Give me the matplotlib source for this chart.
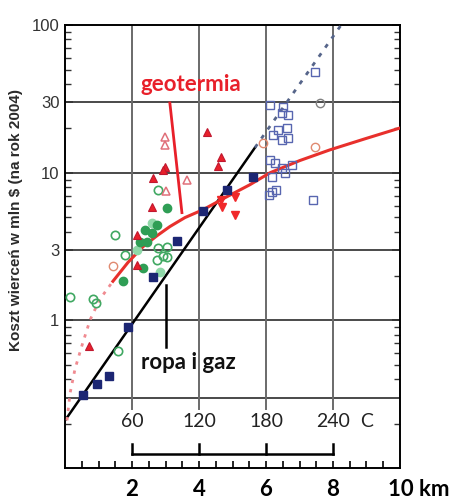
import numpy as np
import matplotlib
matplotlib.use("Agg")
import matplotlib.pyplot as plt
from matplotlib.ticker import FixedLocator, NullFormatter

# --- data (depth in km, cost in mln $) ---
oil_line_x = [0.0, 5.67]
oil_line_y = [0.21, 14.8]
oil_dotted_x = [5.67, 8.24]
oil_dotted_y = [14.8, 100.0]

geo_curve_x = [1.43, 1.88, 2.33, 2.75, 3.13, 3.58, 4.12, 4.78, 5.52, 6.12, 7.01, 7.91, 8.96, 10.0]
geo_curve_y = [1.84, 2.47, 3.16, 3.75, 4.32, 4.97, 5.62, 6.78, 8.30, 10.0, 12.1, 14.3, 17.0, 20.1]
geo_dotted_x = [0.06, 0.15, 0.30, 0.51, 0.75, 1.04, 1.43]
geo_dotted_y = [0.21, 0.32, 0.47, 0.68, 1.01, 1.39, 1.84]

navy_sq_x = [0.54, 0.96, 1.31, 1.88, 2.63, 3.34, 4.12, 4.84, 5.61]
navy_sq_y = [0.31, 0.37, 0.42, 0.90, 1.98, 3.47, 5.5, 7.7, 9.4]

open_sq_x = [6.12, 6.51, 6.48, 6.66, 6.36, 6.63, 6.21, 6.48, 6.66, 7.46, 6.12, 6.27,
             6.48, 6.78, 6.57, 6.18, 6.18, 6.30, 6.09, 7.40]
open_sq_y = [28.8, 27.9, 25.4, 24.6, 19.5, 20.1, 18.1, 16.7, 17.2, 48.0, 12.2, 11.7,
             10.8, 11.3, 10.0, 9.4, 7.44, 7.68, 7.1, 6.57]

red_tri_x = [4.24, 4.66, 4.57, 2.99, 2.93, 2.63, 2.60, 2.15, 2.15, 0.72]
red_tri_y = [18.9, 12.8, 11.1, 11.0, 10.5, 9.25, 5.9, 3.81, 2.39, 0.67]

open_tri_x = [2.99, 2.99, 3.64, 3.01]
open_tri_y = [17.5, 15.5, 9.0, 7.56]

down_tri_x = [4.66, 4.69, 5.07, 5.07]
down_tri_y = [6.57, 5.9, 6.9, 5.2]

green_fill_x = [3.04, 1.73, 2.39, 2.24, 2.75, 2.33, 2.60, 2.45]
green_fill_y = [5.8, 1.84, 4.12, 3.42, 4.45, 2.28, 3.93, 3.37]
light_green_x = [2.84, 2.60, 2.15]
light_green_y = [2.14, 4.6, 3.0]

green_open_x = [1.49, 0.15, 0.84, 0.93, 1.58, 1.79, 2.78, 3.04, 2.75, 2.93, 3.04, 2.78]
green_open_y = [3.81, 1.45, 1.39, 1.32, 0.62, 2.79, 3.11, 3.16, 2.58, 2.71, 2.67, 7.7]

orange_open_x = [5.91, 7.46, 1.43]
orange_open_y = [16.0, 15.0, 2.32]
gray_open_x = [7.61]
gray_open_y = [29.7]

temp_labels = ["60", "120", "180", "240"]
temp_pos = [2, 4, 6, 8]
grid_y = [0.3, 1, 3, 10, 30]
grid_x = [2, 4, 6, 8]

fig = plt.figure(figsize=(4.53, 5.03), dpi=100)
ax = fig.add_axes([0.1435, 0.0696, 0.7395, 0.8804])
ax.set_yscale("log")
ax.set_xlim(0, 10)
ax.set_ylim(0.1, 100)

# grid drawn by hand (vertical lines stop above the temperature scale)
for gy in grid_y:
    ax.axhline(gy, color="#4a4a4a", lw=1.4, zorder=1)
for gx in grid_x:
    ax.plot([gx, gx], [0.25, 100], color="#6a6a6a", lw=1.4, zorder=1)

# fitted lines
ax.plot(oil_line_x, oil_line_y, color="black", lw=1.8, zorder=3)
ax.plot(oil_dotted_x, oil_dotted_y, color="#56658a", lw=2, ls=(0, (1.5, 2.5)), zorder=3)
ax.plot(geo_curve_x, geo_curve_y, color="#e8302c", lw=2.2, zorder=3)
ax.plot(geo_dotted_x, geo_dotted_y, color="#f08a90", lw=2, ls=(0, (1.2, 2.2)), zorder=3)

# points
ax.plot(green_open_x, green_open_y, "o", ms=6, mfc="none", mec="#40a862", mew=1.2, zorder=4)
ax.plot(light_green_x, light_green_y, "o", ms=6, mfc="#8fd8a8", mec="#8fd8a8", zorder=4)
ax.plot(green_fill_x, green_fill_y, "o", ms=6, mfc="#2f9e55", mec="#2f9e55", zorder=4)
ax.plot(open_tri_x, open_tri_y, "^", ms=6, mfc="none", mec="#e0707a", mew=1.1, zorder=4)
ax.plot(red_tri_x, red_tri_y, "^", ms=6, mfc="#e8202a", mec="#c01830", mew=0.8, zorder=4)
ax.plot(down_tri_x, down_tri_y, "v", ms=6, mfc="#f0282a", mec="#f0282a", zorder=4)
ax.plot(open_sq_x, open_sq_y, "s", ms=6, mfc="none", mec="#5866b0", mew=1.0, zorder=4)
ax.plot(navy_sq_x, navy_sq_y, "s", ms=5.5, mfc="#1c2673", mec="#1c2673", zorder=5)
ax.plot(orange_open_x, orange_open_y, "o", ms=6, mfc="none", mec="#e08a70", mew=1.0, zorder=4)
ax.plot(gray_open_x, gray_open_y, "o", ms=6, mfc="none", mec="#808080", mew=1.0, zorder=4)

# annotations
ax.plot([3.13, 3.49], [29.7, 5.37], color="#e8202a", lw=2, zorder=5)
ax.text(3.76, 39.4, "geotermia", color="#e8202a", fontsize=16, fontweight="bold",
        family="Lato", ha="center", va="center")
ax.plot([3.01, 3.01], [1.75, 0.66], color="black", lw=1.8, zorder=5)
ax.text(3.67, 0.52, "ropa i gaz", color="#111111", fontsize=16, fontweight="bold",
        family="Lato", ha="center", va="center", zorder=6)

# temperature scale inside the bottom of the plot
for t, p in zip(temp_labels, temp_pos):
    ax.text(p, 0.205, t, fontsize=14, family="Lato", ha="center", va="center", color="#222222")
ax.text(8.99, 0.205, "C", fontsize=14, family="Lato", ha="center", va="center", color="#222222")
ax.plot([2, 8], [0.1245, 0.1245], color="black", lw=1.8)
for p in temp_pos:
    ax.plot([p, p], [0.1245, 0.145], color="black", lw=1.8)

# axes styling
for s in ax.spines.values():
    s.set_linewidth(1.4)
ax.yaxis.set_major_locator(FixedLocator([1, 3, 10, 30, 100]))
ax.set_yticklabels(["1", "3", "10", "30", "100"])
minor_y = [m * 10.0 ** e for e in (-1, 0, 1) for m in range(2, 10) if m != 3]
ax.yaxis.set_minor_locator(FixedLocator(minor_y))
ax.yaxis.set_minor_formatter(NullFormatter())
ax.tick_params(axis="y", which="both", direction="in", left=True, right=True,
               labelsize=12, colors="#333333", pad=4)
ax.tick_params(axis="y", which="major", length=6, width=1.2)
ax.tick_params(axis="y", which="minor", length=4, width=1.0)
for lab in ax.get_yticklabels():
    lab.set_family("Liberation Sans")

ax.xaxis.set_major_locator(FixedLocator(grid_x))
ax.set_xticklabels(["2", "4", "6", "8"])
ax.xaxis.set_minor_locator(FixedLocator(np.arange(0.5, 10, 0.5)))
ax.tick_params(axis="x", which="both", direction="in", top=False, length=5, width=1.2,
               labelsize=16, pad=8)
for lab in ax.get_xticklabels():
    lab.set_family("Lato")
    lab.set_fontweight("bold")
ax.annotate("10 km", xy=(9.64, 0), xycoords=("data", "axes fraction"),
            xytext=(0, -8), textcoords="offset points", ha="left", va="top",
            fontsize=16, fontweight="bold", family="Lato", annotation_clip=False)

ax.set_ylabel("Koszt wierceń w mln $ (na rok 2004)", fontsize=11, fontweight="bold",
              family="Liberation Sans", color="#2a2a2a")
ax.yaxis.set_label_coords(-0.125, 0.56)

fig.savefig("out.png", dpi=100)
